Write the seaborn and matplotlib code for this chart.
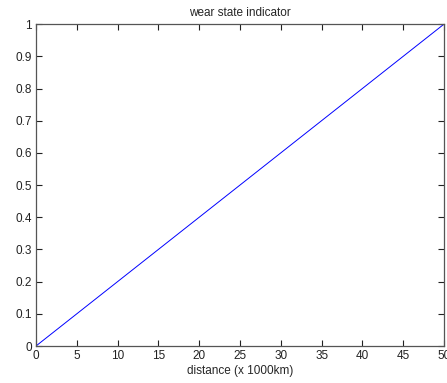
import matplotlib
matplotlib.use("Agg")
import matplotlib.pyplot as plt
import seaborn as sns
import pandas as pd

# wear indicator versus travelled distance
distance = [0, 50]
wear = [0, 1]
x_ticks = [0, 5, 10, 15, 20, 25, 30, 35, 40, 45, 50]
y_ticks = [0, 0.1, 0.2, 0.3, 0.4, 0.5, 0.6, 0.7, 0.8, 0.9, 1]

sns.set_style("ticks")
plt.rcParams["font.family"] = ["Liberation Sans", "DejaVu Sans"]

fig = plt.figure(figsize=(4.47, 3.83), dpi=100)
ax = fig.add_axes([0.0805, 0.0966, 0.9128, 0.8404])

df = pd.DataFrame({"distance": distance, "wear": wear})
sns.lineplot(data=df, x="distance", y="wear", ax=ax, color="#0000ff", linewidth=0.7)

ax.set_xlim(0, 50)
ax.set_ylim(0, 1)
ax.set_xticks(x_ticks)
ax.set_yticks(y_ticks)
ax.set_xticklabels([f"{v:g}" for v in x_ticks])
ax.set_yticklabels([f"{v:g}" for v in y_ticks])
ax.tick_params(direction="in", top=True, right=True, length=4, width=0.8,
               labelsize=8.5, colors="#222222", pad=3)
for s in ax.spines.values():
    s.set_visible(True)
    s.set_color("#555555")
    s.set_linewidth(0.9)

ax.set_xlabel("distance (x 1000km)", fontsize=8.5, labelpad=2)
ax.set_ylabel("")
ax.set_title("wear state indicator", fontsize=8.5, pad=6)

fig.savefig("out.png", dpi=100)
